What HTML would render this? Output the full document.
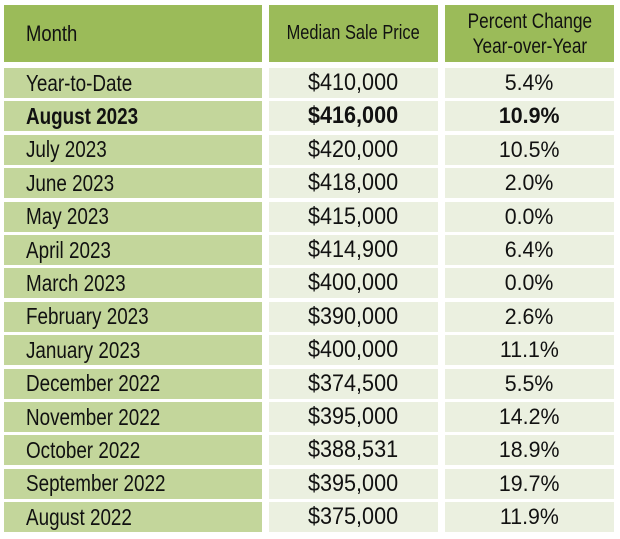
<!DOCTYPE html>
<html><head><meta charset="utf-8"><style>
body{margin:0;width:620px;height:539px;background:#fff;position:relative;overflow:hidden;font-family:"Liberation Sans",sans-serif;color:#111}
.c{position:absolute;display:flex;align-items:center;box-sizing:border-box;white-space:nowrap}
.c span{display:inline-block;transform:scaleX(0.82)}
.m span{transform-origin:left center}
.h{background:#9bbb59;font-size:20px;justify-content:center;text-align:center;line-height:25px}
.m{background:#c3d69b;font-size:23px;padding-left:22px}
.p{background:#ebf0e0;font-size:24px;justify-content:center}
.p span{transform:scaleX(0.9)}
.q{background:#ebf0e0;font-size:22px;justify-content:center}
.q span{transform:scaleX(0.97)}
.b{font-weight:bold}
</style></head><body>
<div class="c h" style="left:4px;top:5px;width:258px;height:57px;justify-content:flex-start;padding-left:22px;font-size:22.5px"><span style="transform-origin:left center">Month</span></div>
<div class="c h" style="left:269px;top:5px;width:169px;height:57px"><span>Median Sale Price</span></div>
<div class="c h" style="left:445px;top:5px;width:169px;height:57px;font-size:21px"><span>Percent Change<br>Year-over-Year</span></div>
<div id="rows"></div>
<script>
const months=["Year-to-Date","August 2023","July 2023","June 2023","May 2023","April 2023","March 2023","February 2023","January 2023","December 2022","November 2022","October 2022","September 2022","August 2022"];
const prices=["$410,000","$416,000","$420,000","$418,000","$415,000","$414,900","$400,000","$390,000","$400,000","$374,500","$395,000","$388,531","$395,000","$375,000"];
const changes=["5.4%","10.9%","10.5%","2.0%","0.0%","6.4%","0.0%","2.6%","11.1%","5.5%","14.2%","18.9%","19.7%","11.9%"];
const R=document.getElementById('rows');
months.forEach((m,i)=>{
  const top=68+i*33.4;
  const bold=i===1?' b':'';
  [[m,'m',4,258],[prices[i],'p',269,169],[changes[i],'q',445,169]].forEach(([t,cls,l,w],j)=>{
    const d=document.createElement('div');
    d.className='c '+cls+bold;
    d.style.cssText=`left:${l}px;top:${top}px;width:${w}px;height:30px`;
    const s=document.createElement('span');
    s.textContent=t;
    d.appendChild(s);
    
    
    R.appendChild(d);
  });
});
</script>
</body></html>
